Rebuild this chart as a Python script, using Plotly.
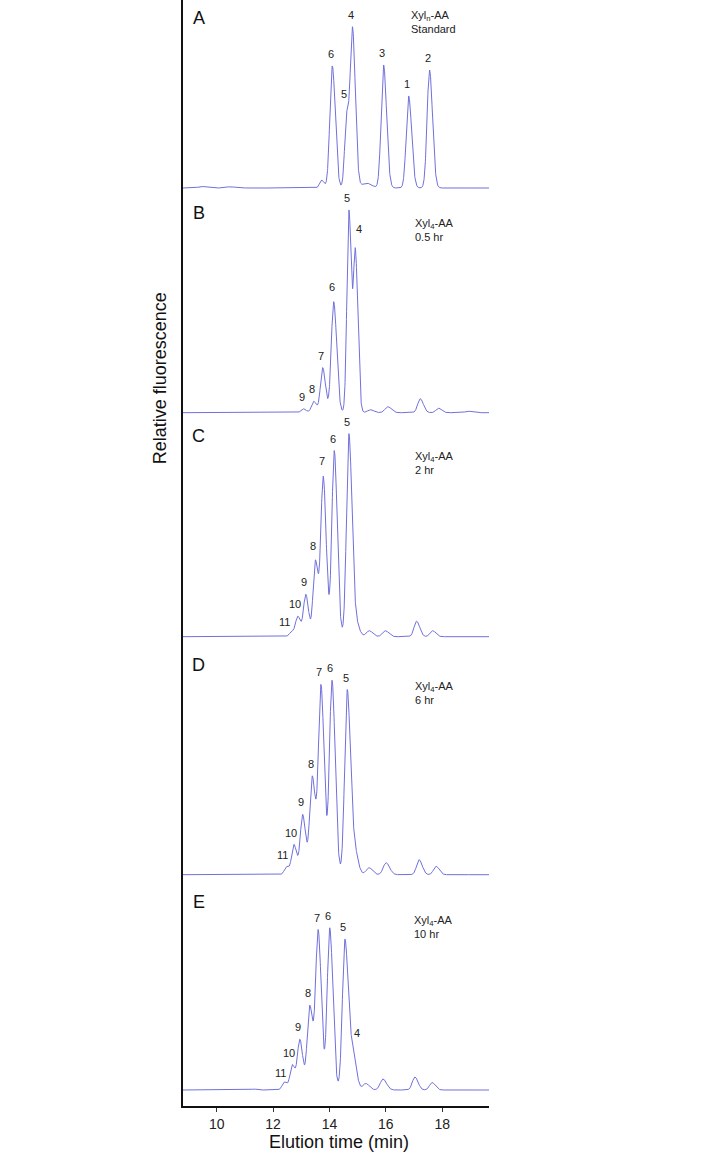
import numpy as np
import plotly.graph_objects as go

# ---------------- data ----------------
# Elution time of each peak (min), apex height (relative units) and width (min)
A_times = [9.47, 10.47, 13.72, 14.10, 14.61, 14.82, 15.30, 15.92, 16.81, 17.55]
A_heights = [1.5, 1.2, 8, 122, 71, 157, 5, 123, 92, 118]
A_widths = [0.12, 0.15, 0.07, 0.085, 0.07, 0.08, 0.15, 0.085, 0.085, 0.085]
A_labels = ["", "", "", "6", "5", "4", "", "3", "1", "2"]

B_times = [13.07, 13.44, 13.76, 14.15, 14.69, 14.92, 15.45, 16.07, 17.22, 17.87, 18.92]
B_heights = [4, 11.5, 45, 111, 202, 158, 3, 6, 14, 4.5, 1.5]
B_widths = [0.08, 0.08, 0.08, 0.085, 0.07, 0.07, 0.1, 0.1, 0.09, 0.09, 0.1]
B_labels = ["9", "8", "7", "6", "5", "4", "", "", "", "", ""]

C_times = [12.66, 12.88, 13.16, 13.50, 13.78, 14.17, 14.69, 14.92, 15.41, 15.98, 17.09, 17.66]
C_heights = [5, 20, 42, 76, 159, 186, 202, 15, 6, 6, 15.5, 6]
C_widths = [0.08, 0.08, 0.08, 0.08, 0.085, 0.085, 0.085, 0.1, 0.1, 0.1, 0.09, 0.09]
C_labels = ["11", "10", "9", "8", "7", "6", "5", "", "", "", "", ""]

D_times = [12.48, 12.74, 13.05, 13.39, 13.70, 14.09, 14.63, 14.88, 15.40, 16.01, 17.18, 17.78]
D_heights = [8, 30, 60, 98, 188, 194, 184, 25, 7, 12, 15, 8.5]
D_widths = [0.08, 0.08, 0.085, 0.09, 0.09, 0.09, 0.09, 0.1, 0.1, 0.1, 0.09, 0.09]
D_labels = ["11", "10", "9", "8", "7", "6", "5", "", "", "", "", ""]

E_times = [11.32, 12.40, 12.68, 12.95, 13.30, 13.60, 14.01, 14.55, 14.82, 15.29, 15.90, 17.03, 17.64]
E_heights = [1, 8, 25, 50, 84, 158, 162, 150, 38, 6.5, 11, 13, 7.5]
E_widths = [0.08, 0.08, 0.08, 0.085, 0.09, 0.09, 0.09, 0.09, 0.1, 0.1, 0.1, 0.09, 0.09]
E_labels = ["", "11", "10", "9", "8", "7", "6", "5", "4", "", "", "", ""]

panel_names = ["A", "B", "C", "D", "E"]
sample_lines = [
    ["Xyl<sub>n</sub>-AA", "Standard"],
    ["Xyl<sub>4</sub>-AA", "0.5 hr"],
    ["Xyl<sub>4</sub>-AA", "2 hr"],
    ["Xyl<sub>4</sub>-AA", "6 hr"],
    ["Xyl<sub>4</sub>-AA", "10 hr"],
]
x_ticks = [10, 12, 14, 16, 18]

# ---------------- layout / style ----------------
PLOT_H = 1106            # plot area height in px; y units == px
X_RANGE = [8.805, 19.66]
PX_PER_MIN = 306 / (X_RANGE[1] - X_RANGE[0])
baselines = {"A": 918, "B": 693.3, "C": 469.3, "D": 231.3, "E": 16}
letter_y = {"A": 1106 - 18.3, "B": 1106 - 213.3, "C": 1106 - 435.7, "D": 1106 - 665.3, "E": 1106 - 902.3}
sample_xy = {"A": (16.83, 1106 - 22.3), "B": (16.97, 1106 - 230), "C": (16.97, 1106 - 463),
             "D": (16.97, 1106 - 692.5), "E": (16.94, 1106 - 927.3)}
TAIL = 1.25
LINE_COLOR = "#7070dd"
FONT = "Liberation Sans, Arial, sans-serif"
DEFAULT_NUDGE = (-1.5, 12)
NUDGE = {("A", "5"): (-2.4, 17.7), ("B", "4"): (3.4, 19.7), ("B", "6"): (-1.4, 15),
         ("C", "11"): (-6.7, 9), ("C", "10"): (-2.7, 12), ("C", "8"): (-2.6, 14),
         ("C", "7"): (-1.3, 15), ("D", "11"): (-4, 11.7), ("D", "10"): (-2.7, 11.7),
         ("E", "11"): (-4.3, 9), ("E", "10"): (-3.6, 12), ("E", "4"): (4, 11)}

tables = {
    "A": (A_times, A_heights, A_widths, A_labels),
    "B": (B_times, B_heights, B_widths, B_labels),
    "C": (C_times, C_heights, C_widths, C_labels),
    "D": (D_times, D_heights, D_widths, D_labels),
    "E": (E_times, E_heights, E_widths, E_labels),
}

t_grid = np.linspace(8.8, 19.66, 2200)


def chromatogram(t, times, heights, widths):
    y = np.zeros_like(t)
    for t0, h, s in zip(times, heights, widths):
        sig = np.where(t < t0, s, s * TAIL)
        y += h * np.exp(-0.5 * ((t - t0) / sig) ** 2)
    return y


fig = go.Figure()
annotations = []
for name, lines in zip(panel_names, sample_lines):
    times, heights, widths, labels = tables[name]
    base = baselines[name]
    sig = chromatogram(t_grid, times, heights, widths)
    fig.add_trace(go.Scatter(x=t_grid, y=sig + base, mode="lines",
                             line=dict(color=LINE_COLOR, width=1), hoverinfo="skip"))
    for t0, lab in zip(times, labels):
        if not lab:
            continue
        dx, dy = NUDGE.get((name, lab), DEFAULT_NUDGE)
        yv = float(chromatogram(np.array([t0]), times, heights, widths)[0])
        annotations.append(dict(x=t0 + dx / PX_PER_MIN, y=base + yv + dy, xref="x", yref="y",
                                text=lab, showarrow=False, xanchor="center", yanchor="middle",
                                font=dict(family=FONT, size=11, color="#222")))
    annotations.append(dict(x=9.37, y=letter_y[name], xref="x", yref="y", text=name,
                            showarrow=False, xanchor="center", yanchor="middle",
                            font=dict(family=FONT, size=18, color="#111")))
    sx, sy = sample_xy[name]
    annotations.append(dict(x=sx, y=sy, xref="x", yref="y", text="<br>".join(lines),
                            showarrow=False, xanchor="left", yanchor="middle", align="left",
                            font=dict(family=FONT, size=11, color="#222")))

annotations.append(dict(x=0.51, y=-0.0323, xref="paper", yref="paper", text="Elution time (min)",
                        showarrow=False, xanchor="center", yanchor="middle",
                        font=dict(family=FONT, size=18, color="#111")))
annotations.append(dict(x=-0.075, y=0.658, xref="paper", yref="paper", text="Relative fluorescence",
                        showarrow=False, xanchor="center", yanchor="middle", textangle=-90,
                        font=dict(family=FONT, size=18, color="#111")))

fig.update_layout(
    width=714, height=1157,
    margin=dict(l=183, r=225, t=0, b=51),
    paper_bgcolor="white", plot_bgcolor="white",
    showlegend=False,
    annotations=annotations,
    xaxis=dict(range=X_RANGE, tickvals=x_ticks, ticktext=[str(v) for v in x_ticks],
               ticks="outside", ticklen=4, tickcolor="#333", showline=True, linecolor="#111",
               linewidth=1.5, showgrid=False, zeroline=False,
               tickfont=dict(family=FONT, size=14, color="#222")),
    yaxis=dict(range=[0, PLOT_H], showline=True, linecolor="#111", linewidth=1.5,
               showticklabels=False, ticks="", showgrid=False, zeroline=False),
)

fig.write_html("out.html", config={"displayModeBar": False},
               post_script="document.body.style.margin='0px';document.body.style.overflow='hidden';")
